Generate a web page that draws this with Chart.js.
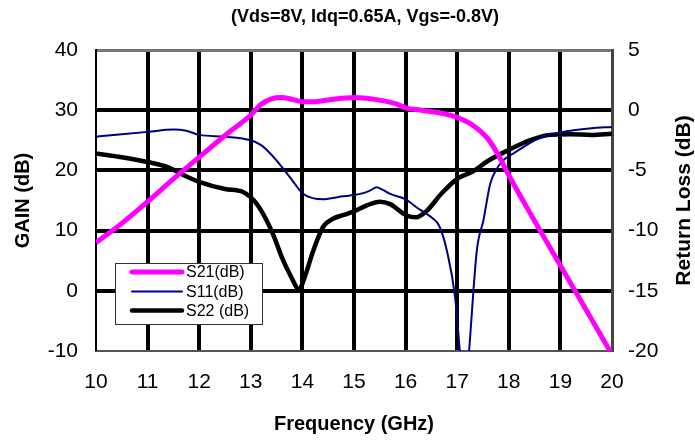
<!DOCTYPE html>
<html>
<head>
<meta charset="utf-8">
<title>Gain / Return Loss</title>
<script src="https://cdn.jsdelivr.net/npm/chart.js@4.4.1/dist/chart.umd.min.js"></script>
<style>
  body { margin: 0; background: #fff; }
  canvas { display: block; }
</style>
</head>
<body>
<canvas id="c" width="695" height="440"></canvas>
<script>
// values
var chartTitle = "(Vds=8V, Idq=0.65A, Vgs=-0.8V)";
var xTitle = "Frequency (GHz)";
var leftTitle = "GAIN (dB)";
var rightTitle = "Return Loss (dB)";

var s21Freq = [10, 10.5, 11, 11.5, 12, 12.5, 13, 13.2, 13.4, 13.6, 13.8, 14, 14.2, 14.5, 15, 15.4, 15.8, 16, 16.3, 16.7, 17, 17.3, 17.6, 17.8, 18, 18.5, 19, 19.5, 20];
var s21Gain = [8, 11.2, 14.8, 18.6, 22.2, 25.8, 29.2, 31, 31.9, 32.1, 31.8, 31.4, 31.4, 31.7, 32.1, 31.8, 31.1, 30.4, 30, 29.5, 28.8, 27.5, 25.2, 22.5, 19.2, 11.6, 4.2, -3.2, -10.6];

var s11Freq = [10, 10.5, 11, 11.5, 11.75, 12, 12.5, 13, 13.2, 13.4, 13.6, 13.8, 14, 14.2, 14.4, 14.7, 14.9, 15.12, 15.3, 15.44, 15.55, 15.7, 16, 16.21, 16.4, 16.54, 16.65, 16.8, 16.96, 17.05, 17.14, 17.23, 17.38, 17.51, 17.64, 17.75, 17.89, 18.05, 18.28, 18.5, 18.73, 19, 19.25, 19.6, 20];
var s11Loss = [-2.2, -2.0, -1.8, -1.6, -1.7, -2.05, -2.2, -2.5, -2.9, -3.7, -4.7, -5.8, -6.9, -7.3, -7.4, -7.2, -7.1, -6.95, -6.7, -6.4, -6.6, -6.95, -7.4, -8.06, -8.6, -9.03, -9.6, -11.67, -15.56, -20, -24.5, -20, -11.67, -9.1, -6.1, -5.0, -4.17, -3.7, -3.06, -2.5, -2.08, -1.85, -1.67, -1.5, -1.39];

var s22Freq = [10, 10.5, 11, 11.4, 11.7, 12, 12.5, 12.85, 13.1, 13.3, 13.45, 13.6, 13.8, 13.93, 14.05, 14.2, 14.4, 14.6, 14.8, 15, 15.25, 15.5, 15.7, 16, 16.2, 16.4, 16.7, 17, 17.3, 17.6, 18, 18.4, 18.8, 19.2, 19.6, 20];
var s22Loss = [-3.6, -3.9, -4.3, -4.75, -5.4, -5.95, -6.55, -6.8, -7.7, -9.1, -10.5, -12.2, -14.0, -14.9, -13.8, -11.8, -9.7, -9.0, -8.7, -8.4, -7.9, -7.6, -7.8, -8.7, -8.9, -8.4, -6.9, -5.7, -5.1, -4.2, -3.3, -2.5, -2.05, -2.0, -2.05, -1.95];

var seriesNames = ["S21(dB)", "S11(dB)", "S22 (dB)"];

function pts(xs, ys) {
    var out = [];
    for (var i = 0; i < xs.length; i++) out.push({x: xs[i], y: ys[i]});
    return out;
}

var FONT = "'Liberation Sans', Arial, sans-serif";

// chart title, right axis title (reads bottom to top) and the boxed legend
var extras = {
    id: "extras",
    afterDatasetsDraw: function(chart) {
        var ctx = chart.ctx;
        var a = chart.chartArea;
        ctx.save();
        ctx.fillStyle = "#000";
        ctx.font = "bold 18px " + FONT;
        ctx.textAlign = "center";
        ctx.textBaseline = "middle";
        ctx.fillText(chartTitle, 365, 17);

        ctx.translate(684, (a.top + a.bottom) / 2);
        ctx.rotate(-Math.PI / 2);
        ctx.font = "bold 21px " + FONT;
        ctx.fillText(rightTitle, 0, 0);
        ctx.restore();

        // legend
        ctx.save();
        var bx = 115.5, by = 263.5, bw = 147, bh = 61;
        ctx.fillStyle = "#fff";
        ctx.fillRect(bx, by, bw, bh);
        ctx.strokeStyle = "#333";
        ctx.lineWidth = 1;
        ctx.strokeRect(bx, by, bw, bh);
        var rows = [272, 291.5, 310.5];
        ctx.font = "16px " + FONT;
        ctx.textBaseline = "middle";
        ctx.textAlign = "left";
        chart.data.datasets.forEach(function(ds, i) {
            ctx.beginPath();
            ctx.lineCap = "round";
            ctx.strokeStyle = ds.borderColor;
            ctx.lineWidth = ds.borderWidth;
            ctx.moveTo(132, rows[i]);
            ctx.lineTo(182, rows[i]);
            ctx.stroke();
            ctx.fillStyle = "#000";
            ctx.fillText(ds.label, 186, rows[i] + 1);
        });
        ctx.restore();
    }
};

var chart;
try {
    chart = new Chart(document.getElementById("c"), {
        type: "line",
        data: {
            datasets: [
                {label: seriesNames[0], data: pts(s21Freq, s21Gain), yAxisID: "y",
                 borderColor: "#ff00ff", borderWidth: 5, pointRadius: 0, cubicInterpolationMode: "monotone"},
                {label: seriesNames[1], data: pts(s11Freq, s11Loss), yAxisID: "y2",
                 borderColor: "#000080", borderWidth: 2, pointRadius: 0, cubicInterpolationMode: "monotone"},
                {label: seriesNames[2], data: pts(s22Freq, s22Loss), yAxisID: "y2",
                 borderColor: "#000000", borderWidth: 4.5, pointRadius: 0, cubicInterpolationMode: "monotone"}
            ]
        },
        options: {
            responsive: false,
            animation: false,
            devicePixelRatio: 1,
            layout: {padding: {top: 50, left: 0, right: 0, bottom: 0}},
            plugins: {legend: {display: false}, title: {display: false}, tooltip: {enabled: false}},
            scales: {
                x: {
                    type: "linear", min: 10, max: 20,
                    ticks: {stepSize: 1, color: "#000", padding: 19, font: {family: FONT, size: 21}},
                    grid: {
                        drawTicks: false,
                        color: "#000",
                        lineWidth: function(c) { return (c.tick && (c.tick.value === 10 || c.tick.value === 20)) ? 0 : 4; }
                    },
                    border: {display: true, color: "#555", width: 2},
                    title: {display: true, text: xTitle, color: "#000", font: {family: FONT, size: 20, weight: "bold"}, padding: {top: 0, bottom: 4}},
                    afterFit: function(s) { s.height = 89; }
                },
                y: {
                    position: "left", min: -10, max: 40,
                    ticks: {stepSize: 10, color: "#000", padding: 18, font: {family: FONT, size: 21}},
                    grid: {
                        drawTicks: false,
                        color: function(c) { return (c.tick && c.tick.value === 40) ? "#777" : "#000"; },
                        lineWidth: function(c) {
                            if (!c.tick) return 4;
                            if (c.tick.value === -10) return 0;
                            if (c.tick.value === 40) return 3;
                            return 4;
                        }
                    },
                    border: {display: true, color: "#000", width: 2},
                    title: {display: true, text: leftTitle, color: "#000", font: {family: FONT, size: 20, weight: "bold"}, padding: {top: 11, bottom: 0}},
                    afterFit: function(s) { s.width = 96; }
                },
                y2: {
                    position: "right", min: -20, max: 5,
                    ticks: {stepSize: 5, color: "#000", padding: 16, font: {family: FONT, size: 21}},
                    grid: {display: false, drawTicks: false},
                    border: {display: true, color: "#444", width: 3},
                    afterFit: function(s) { s.width = 83; }
                }
            }
        },
        plugins: [extras]
    });
} catch (e) {
    console.log(e);
}
</script>
</body>
</html>
